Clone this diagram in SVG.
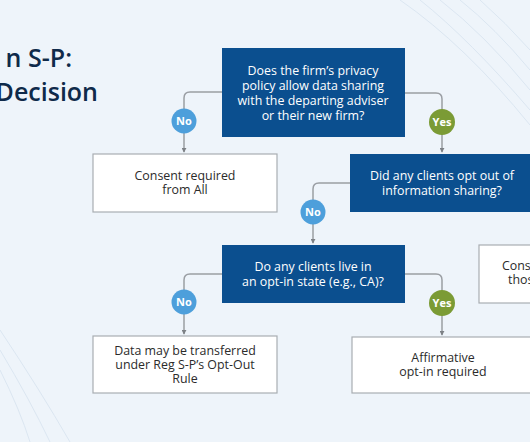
<svg xmlns="http://www.w3.org/2000/svg" width="530" height="442" viewBox="0 0 530 442">
<defs>
<style>
.bg{fill:#eef4fa}
.deco{fill:none;stroke:#dbe6f1;stroke-width:1}
.q{fill:#0b4f8f}
.w{fill:#ffffff;stroke:#a9adb2;stroke-width:1.2}
.tq{font-family:"Open Sans","Liberation Sans",sans-serif;font-size:12.4px;fill:#ffffff;text-anchor:middle}
.tw{font-family:"Open Sans","Liberation Sans",sans-serif;font-size:12.4px;fill:#2b2b2b;text-anchor:middle}
.title{font-family:"Open Sans","Liberation Sans",sans-serif;font-weight:600;font-size:25px;fill:#0f2a4a;text-anchor:end}
.conn{fill:none;stroke:#9a9ea3;stroke-width:1.5}
.no{fill:#4d9fdb}
.yes{fill:#7b9b35}
.lbl{font-family:"Open Sans","Liberation Sans",sans-serif;font-weight:700;font-size:11px;fill:#ffffff;text-anchor:middle}
</style>
<marker id="arr" viewBox="0 0 6 6" refX="5" refY="3" markerWidth="5" markerHeight="5" markerUnits="userSpaceOnUse" orient="auto">
<path d="M0,0 L6,3 L0,6 z" fill="#7d8186"/>
</marker>
</defs>
<rect class="bg" x="0" y="0" width="530" height="442"/>
<g id="decoration">
<path class="deco" d="M400,0 Q465,45 530,125"/>
<path class="deco" d="M420,0 Q470,40 530,110"/>
<path class="deco" d="M440,0 Q485,35 530,90"/>
<path class="deco" d="M460,0 Q495,28 530,70"/>
<path class="deco" d="M480,0 Q505,22 530,50"/>
<path class="deco" d="M0,330 Q40,390 70,442"/>
<path class="deco" d="M0,350 Q30,400 50,442"/>
<path class="deco" d="M0,370 Q20,410 30,442"/>
</g>
<g id="title">
<text class="title" x="72" y="67">n S-P:</text>
<text class="title" x="98" y="101">Decision</text>
</g>
<g id="connectors">
<path class="conn" d="M405,93 H436 Q442,93 442,99 V152" marker-end="url(#arr)"/>
<path class="conn" d="M222,92 H190 Q184,92 184,98 V152" marker-end="url(#arr)"/>
<path class="conn" d="M350,183 H319 Q313,183 313,189 V243" marker-end="url(#arr)"/>
<path class="conn" d="M222,274 H190 Q184,274 184,280 V334" marker-end="url(#arr)"/>
<path class="conn" d="M405,274 H436 Q442,274 442,280 V335" marker-end="url(#arr)"/>
</g>
<g id="q1">
<rect class="q" x="222" y="48" width="183" height="89"/>
<text class="tq" x="313" y="75">Does the firm’s privacy</text>
<text class="tq" x="313" y="90">policy allow data sharing</text>
<text class="tq" x="313" y="105">with the departing adviser</text>
<text class="tq" x="313" y="120">or their new firm?</text>
</g>
<g id="no1">
<circle class="no" cx="184" cy="121" r="12.5"/>
<text class="lbl" x="184" y="125">No</text>
</g>
<g id="yes1">
<circle class="yes" cx="442" cy="122" r="13"/>
<text class="lbl" x="442" y="126">Yes</text>
</g>
<g id="consentAll">
<rect class="w" x="93" y="154" width="184" height="58"/>
<text class="tw" x="185" y="180">Consent required</text>
<text class="tw" x="185" y="194">from All</text>
</g>
<g id="q2">
<rect class="q" x="350" y="154" width="182" height="58"/>
<text class="tq" x="442" y="180">Did any clients opt out of</text>
<text class="tq" x="442" y="195">information sharing?</text>
</g>
<g id="no2">
<circle class="no" cx="313" cy="212" r="12.5"/>
<text class="lbl" x="313" y="216">No</text>
</g>
<g id="q3">
<rect class="q" x="222" y="245" width="183" height="58"/>
<text class="tq" x="313" y="271">Do any clients live in</text>
<text class="tq" x="313" y="286">an opt-in state (e.g., CA)?</text>
</g>
<g id="consentThose">
<rect class="w" x="479" y="245" width="60" height="58"/>
<text class="tw" x="502" y="270" style="text-anchor:start">Cons</text>
<text class="tw" x="508" y="284" style="text-anchor:start">thos</text>
</g>
<g id="no3">
<circle class="no" cx="184" cy="302" r="12.5"/>
<text class="lbl" x="184" y="306">No</text>
</g>
<g id="yes3">
<circle class="yes" cx="442" cy="303" r="13"/>
<text class="lbl" x="442" y="307">Yes</text>
</g>
<g id="optOutRule">
<rect class="w" x="93" y="336" width="184" height="57"/>
<text class="tw" x="185" y="355">Data may be transferred</text>
<text class="tw" x="185" y="369">under Reg S-P’s Opt-Out</text>
<text class="tw" x="185" y="383">Rule</text>
</g>
<g id="optIn">
<rect class="w" x="352" y="337" width="182" height="56"/>
<text class="tw" x="443" y="362">Affirmative</text>
<text class="tw" x="443" y="376">opt-in required</text>
</g>
</svg>
